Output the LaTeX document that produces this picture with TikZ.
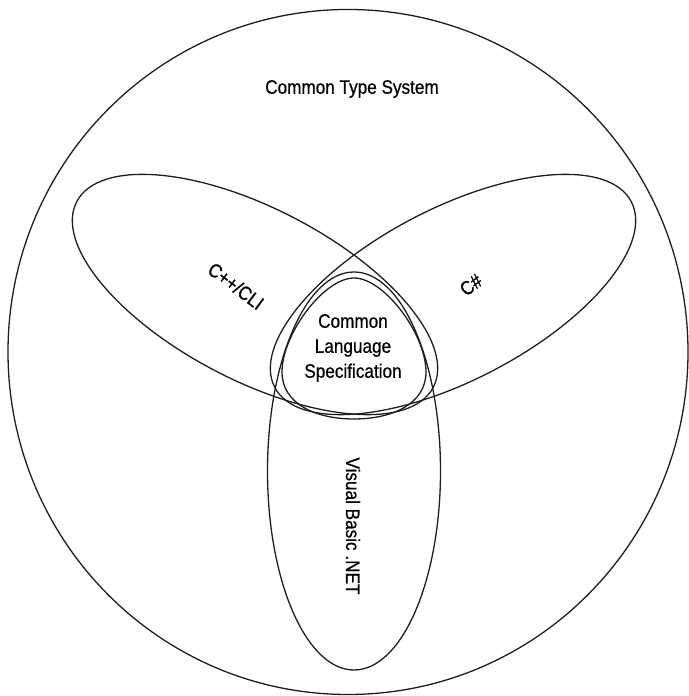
\documentclass[tikz,border=0pt]{standalone}
\usepackage{fontspec}
\setmainfont{Liberation Sans}[FakeStretch=0.88,FakeBold=0.6]
\definecolor{inkline}{HTML}{1E1E1E}
\begin{document}
\begin{tikzpicture}[x=1pt,y=1pt,
  outline/.style={draw=inkline,line width=1.3pt},
  lbl/.style={font=\fontsize{19.5}{25}\selectfont,text=black,inner sep=0pt,align=center}]
\useasboundingbox (0,0) rectangle (688,696);
% Common Type System (outer circle)
\draw[outline] (348,344) ellipse [x radius=340, y radius=342.5];
% C++/CLI ellipse
\draw[outline,rotate around={-27.5:(255,401.5)}] (255,401.5) ellipse [x radius=201, y radius=86];
% C# ellipse
\draw[outline,rotate around={27.5:(453,401.5)}] (453,401.5) ellipse [x radius=201, y radius=86];
% Visual Basic .NET ellipse
\draw[outline] (354,225) ellipse [x radius=86.5, y radius=199];
% Common Language Specification
\draw[outline] (354,418) .. controls (384,418) and (426,362) .. (426,324)
  .. controls (426,292) and (392,277) .. (354,277)
  .. controls (316,277) and (282,292) .. (282,324)
  .. controls (282,362) and (324,418) .. (354,418) -- cycle;
% labels
\node[lbl] (cts) at (352,607) {Common Type System};
\node[lbl,rotate=-37] (cpp) at (236,410) {C++/CLI};
\node[lbl,rotate=37] (cs) at (471,411) {C\#};
\node[lbl] (cls) at (353,348) {Common\\Language\\Specification};
\node[lbl,rotate=-90] (vb) at (353,170) {Visual Basic .NET};
\end{tikzpicture}
\end{document}
